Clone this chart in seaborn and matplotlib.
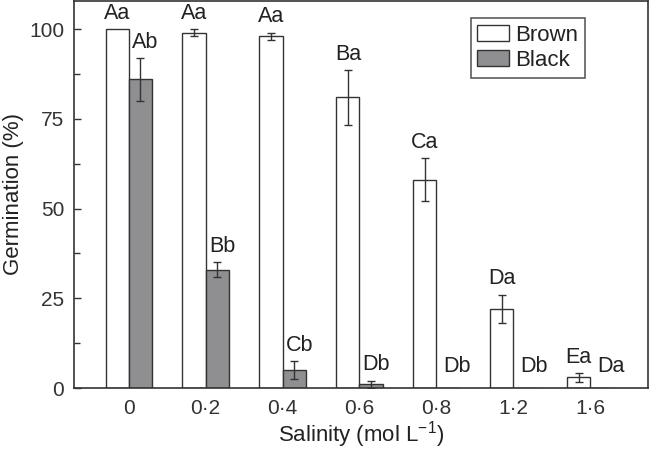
import numpy as np
import pandas as pd
import matplotlib
matplotlib.use("Agg")
import matplotlib.pyplot as plt
import seaborn as sns

# Germination data
salinity = ["0", "0·2", "0·4", "0·6", "0·8", "1·2", "1·6"]
brown_mean = [100, 99, 98, 81, 58, 22, 3]
brown_err = [0, 1, 1, 7.6, 6, 4, 1.2]
black_mean = [86, 33, 5, 1, 0, 0, 0]
black_err = [6, 2, 2.5, 1, 0, 0, 0]
brown_letters = ["Aa", "Aa", "Aa", "Ba", "Ca", "Da", "Ea"]
black_letters = ["Ab", "Bb", "Cb", "Db", "Db", "Db", "Da"]

sns.set_style("ticks")
plt.rcParams["font.family"] = ["Liberation Sans", "DejaVu Sans"]
plt.rcParams["mathtext.fontset"] = "custom"
plt.rcParams["mathtext.rm"] = "Liberation Sans"
plt.rcParams["text.color"] = "#222222"
plt.rcParams["axes.edgecolor"] = "#333333"
plt.rcParams["xtick.color"] = "#333333"
plt.rcParams["ytick.color"] = "#333333"
plt.rcParams["axes.labelcolor"] = "#222222"

df = pd.DataFrame({
    "Salinity": salinity * 2,
    "Germination": brown_mean + black_mean,
    "Seed": ["Brown"] * len(salinity) + ["Black"] * len(salinity),
})

fig = plt.figure(figsize=(6.5, 4.51), dpi=100)
ax = fig.add_axes([74 / 650, 1 - 388 / 451, 574 / 650, 387.5 / 451])

sns.barplot(data=df, x="Salinity", y="Germination", hue="Seed",
            order=salinity, hue_order=["Brown", "Black"],
            palette={"Brown": "white", "Black": "#8e8e92"},
            width=0.6, errorbar=None, edgecolor="#333333", linewidth=1,
            ax=ax)

groups = [(brown_mean, brown_err, brown_letters, 0.0),
          (black_mean, black_err, black_letters, 0.07)]
for cont, (means, errs, letters, dx) in zip(ax.containers, groups):
    xs = np.array([b.get_x() + b.get_width() / 2 for b in cont])
    for x, m, e, lab in zip(xs, means, errs, letters):
        if e > 0:
            ax.errorbar(x, m, yerr=e, fmt="none", ecolor="#333333",
                        elinewidth=1, capsize=3, capthick=1)
        if m == 0:
            # no seeds germinated: letter sits beside the empty slot
            ax.text(x + 0.12, 3.0, lab, ha="center", va="bottom", fontsize=15.5)
        else:
            ax.text(x + dx, m + e + 1.5, lab, ha="center", va="bottom", fontsize=15.5)

ax.set_xlim(-0.71, 6.75)
ax.set_ylim(0, 108)
ax.set_yticks([0, 25, 50, 75, 100])
ax.set_yticks([12.5, 37.5, 62.5, 87.5], minor=True)
ax.tick_params(axis="y", which="major", direction="in", length=5, width=1,
               labelsize=15, pad=7)
ax.tick_params(axis="y", which="minor", direction="in", length=4, width=1)
ax.tick_params(axis="x", length=0, labelsize=15, pad=8)
for s in ax.spines.values():
    s.set_visible(True)
    s.set_linewidth(1.2)

ax.set_xlabel("Salinity (mol L$^{-1}$)", fontsize=16, labelpad=1)
ax.set_ylabel("Germination (%)", fontsize=16, labelpad=4)

leg = ax.legend(loc="upper right", bbox_to_anchor=(0.89, 0.955), fontsize=16,
                borderaxespad=0, frameon=True, fancybox=False,
                handlelength=1.4, handleheight=0.7, handletextpad=0.3,
                borderpad=0.3, labelspacing=0.2)
leg.get_frame().set_edgecolor("#333333")
leg.get_frame().set_linewidth(1.2)

fig.savefig("out.png", dpi=100)
